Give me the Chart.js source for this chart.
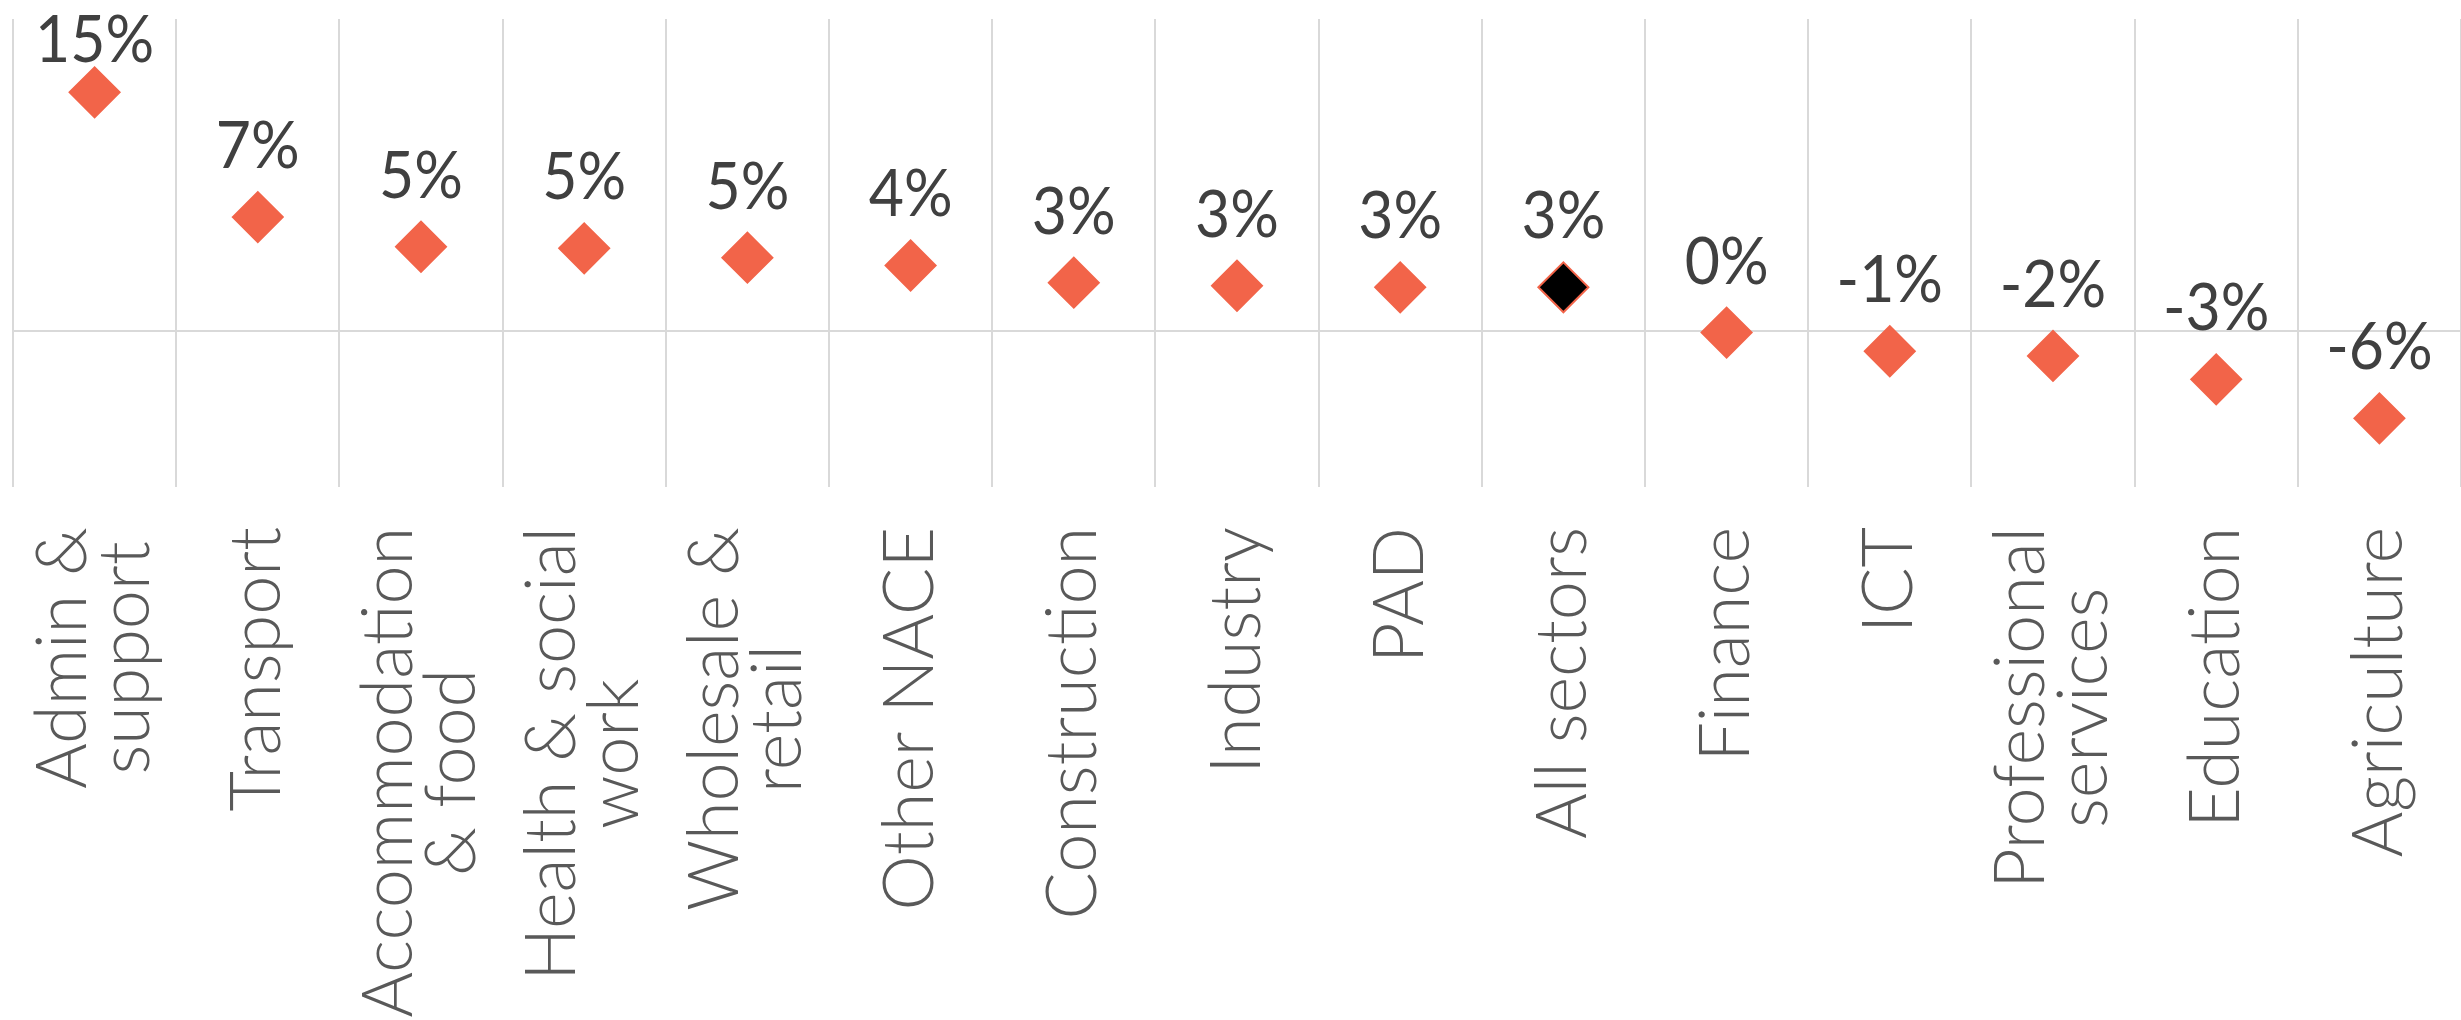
<!DOCTYPE html>
<html>
<head>
<meta charset="utf-8">
<script src="https://cdn.jsdelivr.net/npm/chart.js@4"></script>
<style>
    html, body { margin: 0; padding: 0; background: #ffffff; }
    #chartSectores { display: block; }
</style>
</head>
<body>
<canvas id="chartSectores" width="2461" height="1020"></canvas>
<script>
const sectores = [
    ['Admin &', 'support'],
    ['Transport'],
    ['Accommodation', '& food'],
    ['Health & social', 'work'],
    ['Wholesale &', 'retail'],
    ['Other NACE'],
    ['Construction'],
    ['Industry'],
    ['PAD'],
    ['All sectors'],
    ['Finance'],
    ['ICT'],
    ['Professional', 'services'],
    ['Education'],
    ['Agriculture']
];
const variacion = [15.3, 7.3, 5.4, 5.3, 4.7, 4.2, 3.1, 2.9, 2.8, 2.8, -0.1, -1.3, -1.6, -3.1, -5.6];
const ejeYTicks = [-10, 0, 10, 20];

const colorNaranja = '#f26449';
const colorRejilla = '#d9d9d9';

function formatearPorcentaje(valor) {
    return (Math.round(valor) || 0) + '%';
}

// Etiquetas de valor encima de cada rombo
const etiquetasValor = {
    id: 'etiquetasValor',
    afterDatasetsDraw(chart) {
        const ctx = chart.ctx;
        const meta = chart.getDatasetMeta(0);
        ctx.save();
        ctx.font = '66px Lato';
        ctx.fillStyle = '#404040';
        ctx.textAlign = 'center';
        ctx.textBaseline = 'alphabetic';
        meta.data.forEach((punto, i) => {
            const y = Math.max(punto.y - 49, 62);
            ctx.save();
            ctx.translate(punto.x, y);
            ctx.scale(0.92, 1);
            ctx.fillText(formatearPorcentaje(variacion[i]), 0, 0);
            ctx.restore();
        });
        ctx.restore();
    }
};

// Etiquetas de categoria giradas: bloque pegado arriba, lineas centradas entre si
const etiquetasSector = {
    id: 'etiquetasSector',
    afterDraw(chart) {
        const ctx = chart.ctx;
        const escalaX = chart.scales.x;
        const alto = 63;
        const inicio = chart.chartArea.bottom + 40;
        ctx.save();
        ctx.font = '300 70px Lato';
        ctx.fillStyle = '#595959';
        ctx.textAlign = 'center';
        ctx.textBaseline = 'middle';
        sectores.forEach((lineas, i) => {
            const x = escalaX.getPixelForValue(i);
            const anchoMax = Math.max(...lineas.map(t => ctx.measureText(t).width));
            lineas.forEach((texto, j) => {
                const desplazamiento = (j - (lineas.length - 1) / 2) * alto;
                ctx.save();
                ctx.translate(x + desplazamiento, inicio + anchoMax / 2);
                ctx.rotate(-Math.PI / 2);
                ctx.fillText(texto, 0, 0);
                ctx.restore();
            });
        });
        ctx.restore();
    }
};

document.addEventListener('DOMContentLoaded', function () {
    const ctx = document.getElementById('chartSectores').getContext('2d');
    new Chart(ctx, {
        type: 'line',
        data: {
            labels: sectores,
            datasets: [{
                data: variacion,
                showLine: false,
                clip: false,
                pointStyle: 'rectRot',
                pointRadius: 25,
                pointHoverRadius: 25,
                pointBorderWidth: 2,
                pointBorderColor: colorNaranja,
                pointBackgroundColor: function (c) {
                    return sectores[c.dataIndex][0] === 'All sectors' ? '#000000' : colorNaranja;
                }
            }]
        },
        options: {
            responsive: false,
            devicePixelRatio: 1,
            animation: false,
            layout: {
                autoPadding: false,
                padding: { left: 13, top: 19, right: 0, bottom: 533 }
            },
            plugins: {
                legend: { display: false },
                tooltip: { enabled: false }
            },
            scales: {
                x: {
                    type: 'category',
                    offset: true,
                    afterFit: function (escala) { escala.height = 0; },
                    border: { display: false },
                    ticks: { display: false },
                    grid: {
                        offset: true,
                        drawTicks: false,
                        lineWidth: 2,
                        color: function (c) {
                            return c.index === sectores.length ? 'rgba(0,0,0,0)' : colorRejilla;
                        }
                    }
                },
                y: {
                    min: ejeYTicks[0],
                    max: ejeYTicks[ejeYTicks.length - 1],
                    afterBuildTicks: function (escala) {
                        escala.ticks = ejeYTicks.map(v => ({ value: v }));
                    },
                    afterFit: function (escala) { escala.width = 0; },
                    border: { display: false },
                    ticks: { display: false },
                    grid: {
                        drawTicks: false,
                        lineWidth: 2,
                        color: function (c) {
                            return c.tick && c.tick.value === 0 ? colorRejilla : 'rgba(0,0,0,0)';
                        }
                    }
                }
            }
        },
        plugins: [etiquetasValor, etiquetasSector]
    });
});
</script>
</body>
</html>
